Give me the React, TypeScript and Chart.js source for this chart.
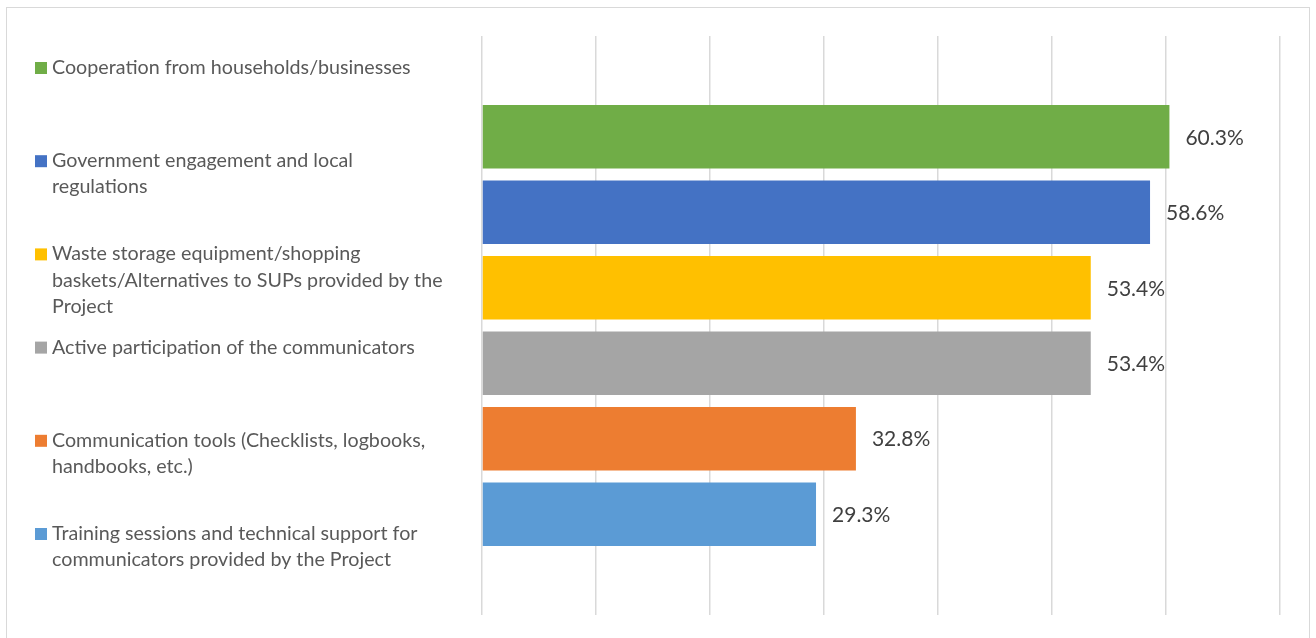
import React, { useEffect, useRef } from "react";
import { Chart, registerables } from "chart.js";

Chart.register(...registerables);

const categories: string[][] = [
  ["Cooperation from households/businesses"],
  ["Government engagement and local", "regulations"],
  ["Waste storage equipment/shopping", "baskets/Alternatives to SUPs provided by the", "Project"],
  ["Active participation of the communicators"],
  ["Communication tools (Checklists, logbooks,", "handbooks, etc.)"],
  ["Training sessions and technical support for", "communicators provided by the Project"],
];
const values: number[] = [60.3, 58.6, 53.4, 53.4, 32.8, 29.3];
const colors: string[] = ["#70ad47", "#4472c4", "#ffc000", "#a5a5a5", "#ed7d31", "#5b9bd5"];
const axisMin = 0;
const axisMax = 70;
const axisStep = 10;

const FONT = "Lato";

const valueLabelPlugin = {
  id: "valueLabels",
  afterDatasetsDraw(chart: any) {
    const ctx = chart.ctx;
    ctx.save();
    ctx.font = `21px ${FONT}`;
    ctx.fillStyle = "#404040";
    ctx.textAlign = "left";
    ctx.textBaseline = "middle";
    chart.data.datasets.forEach((ds: any, i: number) => {
      const meta = chart.getDatasetMeta(i);
      const el = meta.data[0];
      if (!el) return;
      ctx.fillText(`${ds.data[0].toFixed(1)}%`, el.x + 16, el.y + 1);
    });
    ctx.restore();
  },
};

const sideLegendPlugin = {
  id: "sideLegend",
  afterDraw(chart: any) {
    const ctx = chart.ctx;
    ctx.save();
    ctx.font = `19.7px ${FONT}`;
    ctx.textAlign = "left";
    ctx.textBaseline = "alphabetic";
    const firstBaseline = 74;
    const itemStep = 93.2;
    const lineStep = 26.2;
    chart.data.datasets.forEach((ds: any, i: number) => {
      const base = firstBaseline + i * itemStep;
      ctx.fillStyle = ds.backgroundColor;
      ctx.fillRect(35, base - 12, 12, 12);
      ctx.fillStyle = "#595959";
      (ds.lines as string[]).forEach((line, j) => {
        ctx.fillText(line, 52, base + j * lineStep);
      });
    });
    ctx.restore();
  },
};

export default function App() {
  const ref = useRef<HTMLCanvasElement | null>(null);

  useEffect(() => {
    if (!ref.current) return;
    const chart = new Chart(ref.current, {
      type: "bar",
      data: {
        labels: [""],
        datasets: categories.map((lines, i) => ({
          label: lines.join(" "),
          lines,
          data: [values[i]],
          backgroundColor: colors[i],
          borderWidth: 0,
          categoryPercentage: 0.782,
          barPercentage: 0.841,
        })) as any,
      },
      options: {
        indexAxis: "y",
        animation: false,
        responsive: false,
        devicePixelRatio: 1,
        layout: { padding: { left: 482, right: 36, top: 36, bottom: 23 } },
        plugins: {
          legend: { display: false },
          tooltip: { enabled: false },
        },
        scales: {
          x: {
            min: axisMin,
            max: axisMax,
            ticks: { display: false, stepSize: axisStep },
            grid: { color: "#d9d9d9", lineWidth: 1.5, drawTicks: false },
            border: { display: false },
            afterFit: (s: any) => {
              s.height = 0;
            },
          },
          y: { display: false },
        },
      },
      plugins: [valueLabelPlugin, sideLegendPlugin],
    });
    return () => chart.destroy();
  }, []);

  return (
    <div style={{ position: "fixed", inset: 0, overflow: "hidden", background: "#fff" }}>
      <div
        style={{
          position: "absolute",
          left: 6,
          top: 7,
          width: 1304,
          height: 700,
          border: "1px solid #d9d9d9",
          boxSizing: "border-box",
        }}
      />
      <canvas
        ref={ref}
        width={1316}
        height={638}
        style={{ position: "absolute", left: 0, top: 0, width: 1316, height: 638 }}
      />
    </div>
  );
}
